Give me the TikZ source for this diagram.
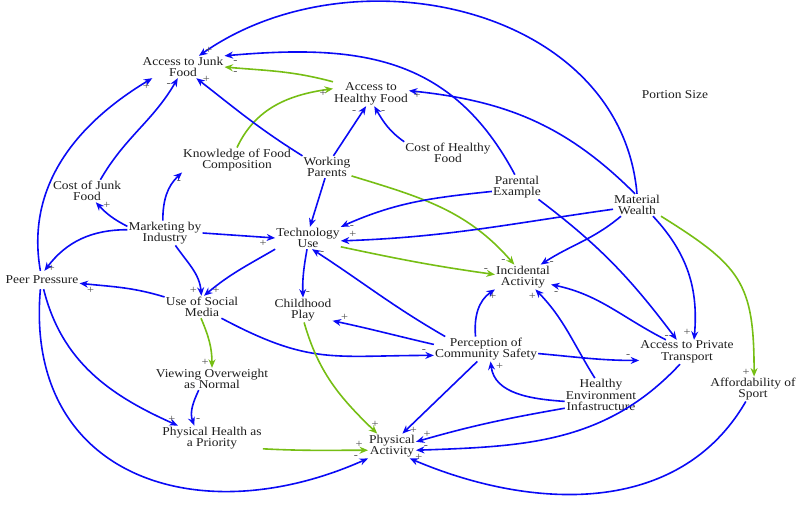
\documentclass[tikz,border=0pt]{standalone}
\usepackage{fontspec}
\setmainfont{Liberation Serif}[FakeStretch=1.12]
\usepackage{xcolor}
\usepackage{tikz}
\usetikzlibrary{arrows.meta}
\definecolor{cldblue}{RGB}{10,10,245}
\definecolor{cldgreen}{RGB}{118,190,20}
\definecolor{cldtext}{RGB}{30,30,30}

\begin{document}
\begin{tikzpicture}[x=1pt,y=1pt,
var/.style={align=center,inner sep=1pt,text=cldtext,font=\fontsize{12}{11.5}\selectfont},
blink/.style={draw=cldblue,line width=1.6pt,-{Stealth[length=8.5pt,width=7pt]}},
glink/.style={draw=cldgreen,line width=1.6pt,-{Stealth[length=8.5pt,width=7pt]}},
pol/.style={inner sep=0pt,text=black!70,font=\fontsize{11}{11}\selectfont}]
\useasboundingbox (0,0) rectangle (800,-504);
\node[var] (junk) at (183,-67) {Access to Junk\\Food};
\node[var] (healthy) at (371,-94) {Access to\\Healthy Food};
\node[var] (portion) at (675,-95) {Portion Size};
\node[var] (know) at (237,-160) {Knowledge of Food\\Composition};
\node[var] (work) at (327,-167) {Working\\Parents};
\node[var] (costh) at (448,-153) {Cost of Healthy\\Food};
\node[var] (parent) at (517,-187) {Parental\\Example};
\node[var] (wealth) at (637,-205) {Material\\Wealth};
\node[var] (costj) at (87,-191) {Cost of Junk\\Food};
\node[var] (market) at (165,-233) {Marketing by\\Industry};
\node[var] (tech) at (308,-238) {Technology\\Use};
\node[var,inner ysep=5pt] (peer) at (42,-280) {Peer Pressure};
\node[var] (social) at (202,-307) {Use of Social\\Media};
\node[var] (play) at (303,-310) {Childhood\\Play};
\node[var] (incid) at (523,-277) {Incidental\\Activity};
\node[var] (percep) at (486,-349) {Perception of\\Community Safety};
\node[var] (transp) at (687,-352) {Access to Private\\Transport};
\node[var] (view) at (212,-379) {Viewing Overweight\\as Normal};
\node[var] (afford) at (753,-389) {Affordability of\\Sport};
\node[var] (env) at (601,-395) {Healthy\\Environment\\Infastructure};
\node[var] (prio) at (212,-438) {Physical Health as\\a Priority};
\node[var] (phys) at (392,-446) {Physical\\Activity};

\draw[blink] (wealth.north) to[out=95,in=35,looseness=1.05] node[pol,at end,xshift=10,yshift=5]{+} (junk.35);
\draw[blink] (parent.100) to[out=118,in=5,looseness=1.1] node[pol,at end,xshift=11,yshift=-6]{-} (junk.north east);
\draw[glink] (healthy.north west) to[out=165,in=-5] node[pol,at end,xshift=11,yshift=-6]{-} (junk.east);
\draw[glink] (know.north) to[out=65,in=188] node[pol,at end,xshift=-10,yshift=-5]{+} (healthy.172);
\draw[blink] (work.north west) to[out=148,in=-38] node[pol,at end,xshift=10,yshift=-1]{+} (junk.-40);
\draw[blink] (costj.40) to[out=60,in=-120] node[pol,at end,xshift=-9,yshift=-7]{-} (junk.-115);
\draw[blink] (peer.100) to[out=100,in=211] node[pol,at end,xshift=-6,yshift=-8]{+} (junk.200);
\draw[blink] (market.170) to[out=153,in=-47] node[pol,at end,xshift=11,yshift=-3]{+} (costj.-52);
\draw[blink] (market.100) to[out=90,in=223] node[pol,at end,xshift=-3,yshift=-10]{-} (know.south west);
\draw[blink] (market.175) to[out=180,in=53] node[pol,at end,xshift=7,yshift=2]{+} (peer.75);
\draw[blink] (market.east) -- node[pol,at end,xshift=-12,yshift=-5]{+} (tech.west);
\draw[blink] (market.-50) to[out=-55,in=95] node[pol,at end,xshift=-8,yshift=5]{+} (social.93);
\draw[blink] (work.60) -- node[pol,at end,xshift=-12,yshift=-6]{-} (healthy.-112);
\draw[blink] (costh.north west) to[out=145,in=-60] node[pol,at end,xshift=9,yshift=-6]{-} (healthy.-75);
\draw[blink] (wealth.100) to[out=135,in=-6] node[pol,at end,xshift=8,yshift=-5]{+} (healthy.5);
\draw[blink] (work.-100) -- (tech.80);
\draw[glink] (work.-20) to[out=-17,in=131] node[pol,at end,xshift=-11,yshift=4]{-} (incid.125);
\draw[blink] (parent.190) to[out=186,in=24] node[pol,at end,xshift=11,yshift=0]{-} (tech.north east);
\draw[blink] (parent.-30) to[out=-37,in=127] node[pol,at end,xshift=-10,yshift=3]{-} (transp.130);
\draw[blink] (wealth.190) to[out=188,in=2] node[pol,at end,xshift=12,yshift=6]{+} (tech.-5);
\draw[blink] (wealth.215) to[out=220,in=33] node[pol,at end,xshift=11,yshift=2]{-} (incid.35);
\draw[blink] (wealth.-35) to[out=-47,in=85] node[pol,at end,xshift=-7,yshift=7]{+} (transp.60);
\draw[glink] (wealth.-25) to[out=-32,in=90,looseness=1.3] node[pol,at end,xshift=-8,yshift=4]{+} (afford.85);
\draw[blink] (tech.south west) to[out=210,in=40] node[pol,at end,xshift=12,yshift=5]{+} (social.80);
\draw[blink] (tech.-95) to[out=-100,in=92] node[pol,at end,xshift=5,yshift=5]{-} (play.north);
\draw[glink] (tech.-15) to[out=-12,in=172] node[pol,at end,xshift=-9,yshift=5]{-} (incid.175);
\draw[blink] (percep.163) to[out=150,in=-33] node[pol,at end,xshift=10,yshift=-4]{-} (tech.-70);
\draw[blink] (percep.175) to[out=167,in=-12] node[pol,at end,xshift=12,yshift=3]{+} (play.-20);
\draw[blink] (percep.130) to[out=95,in=214] node[pol,at end,xshift=-2,yshift=-7]{+} (incid.south west);
\draw[blink] (percep.-5) to[out=-5,in=180] node[pol,at end,xshift=-11,yshift=4]{-} (transp.-170);
\draw[blink] (percep.-125) -- node[pol,at end,xshift=11,yshift=3]{+} (phys.50);
\draw[blink] (social.165) to[out=163,in=-6] node[pol,at end,xshift=11,yshift=-7]{+} (peer.-5);
\draw[glink] (social.-95) to[out=-67,in=90] node[pol,at end,xshift=-7,yshift=5]{+} (view.north);
\draw[blink] (social.-30) to[out=-28,in=180,looseness=1.2] node[pol,at end,xshift=-10,yshift=4]{-} (percep.187);
\draw[blink] (view.-140) to[out=-115,in=110] node[pol,at end,xshift=4,yshift=6]{-} (prio.145);
\draw[blink] (peer.-80) to[out=-76,in=156] node[pol,at end,xshift=-6,yshift=6]{+} (prio.160);
\draw[blink] (peer.-100) to[out=-95,in=204,looseness=1.3] node[pol,at end,xshift=-12,yshift=1]{-} (phys.south west);
\draw[glink] (prio.-12) to[out=-3,in=180] node[pol,at end,xshift=-9,yshift=6]{+} (phys.190);
\draw[glink] (play.-85) to[out=-74,in=136] node[pol,at end,xshift=-2,yshift=9]{+} (phys.140);
\draw[blink] (transp.150) to[out=153,in=-12] node[pol,at end,xshift=5,yshift=-8]{-} (incid.-15);
\draw[blink] (transp.-120) to[out=-133,in=2] node[pol,at end,xshift=10,yshift=3]{-} (phys.-10);
\draw[blink] (env.110) to[out=122,in=-46] node[pol,at end,xshift=-3,yshift=-7]{+} (incid.-45);
\draw[blink] (env.190) to[out=176,in=-83] node[pol,at end,xshift=9,yshift=-5]{+} (percep.-70);
\draw[blink] (env.200) to[out=190,in=16] node[pol,at end,xshift=11,yshift=7]{+} (phys.10);
\draw[blink] (afford.-120) to[out=-120,in=-23] node[pol,at end,xshift=9,yshift=1]{+} (phys.-35);
\end{tikzpicture}
\end{document}
